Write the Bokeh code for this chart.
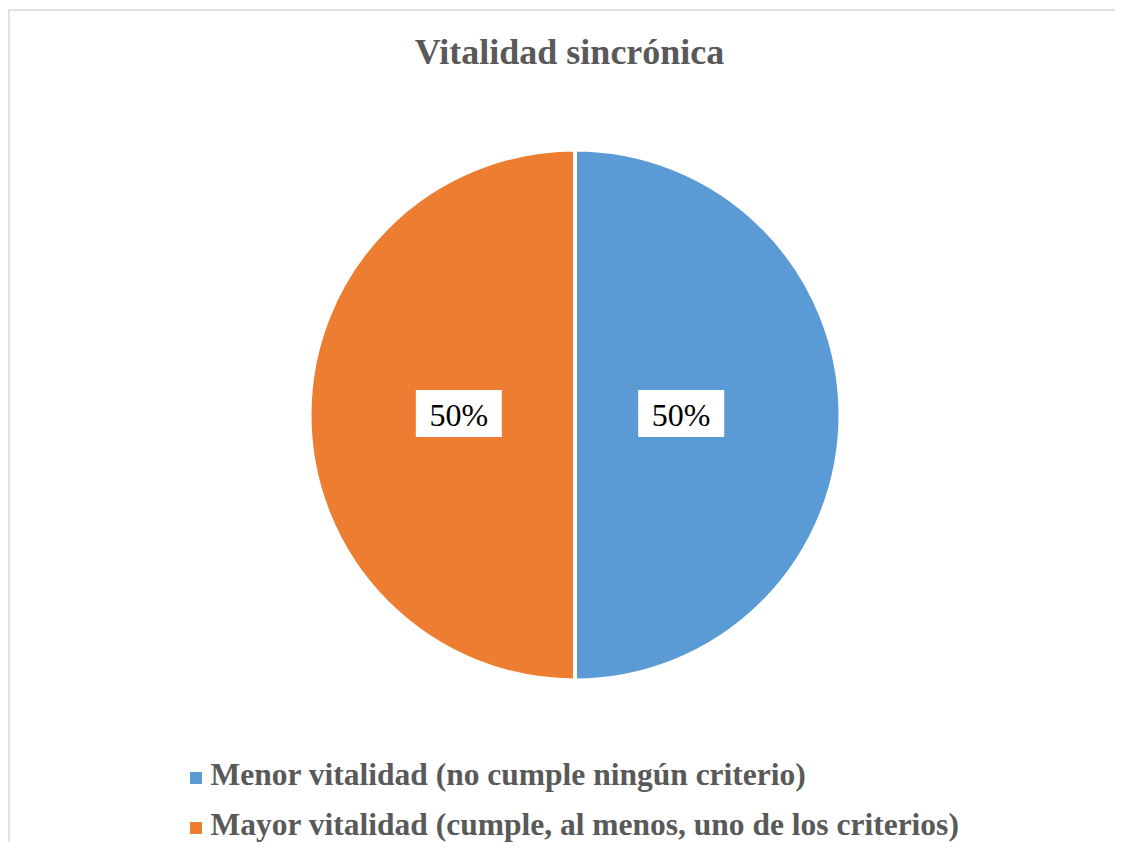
import math
from bokeh.plotting import figure
from bokeh.models import Range1d
from bokeh.core.properties import value
from bokeh.embed import file_html
from bokeh.resources import INLINE

# ---- data ----
title = "Vitalidad sincrónica"
categories = [
    "Menor vitalidad (no cumple ningún criterio)",
    "Mayor vitalidad (cumple, al menos, uno de los criterios)",
]
shares = [50, 50]
colors = ["#5B9BD5", "#ED7D31"]

# ---- layout ----
W, H = 1115, 842
p = figure(width=W, height=H, x_range=Range1d(0, W), y_range=Range1d(0, H),
           output_backend="svg", toolbar_location=None, min_border=0)
p.axis.visible = False
p.grid.visible = False
p.outline_line_color = None
p.background_fill_color = "white"
p.border_fill_color = "white"

BASE = 0.36  # compensation of the svg alphabetic baseline offset (in em)


def sx(x):
    return x


def sy(y):
    return H - y


def base_y(y, fs):
    return sy(y) + BASE * fs


# chart border
p.quad(left=[sx(8.5)], right=[sx(1160)], top=[sy(9.5)], bottom=[sy(900)],
       fill_color=None, line_color="#D9D9D9", line_width=1.5)

# title
TFS = 36
p.text(x=[sx(569)], y=[base_y(64.5, TFS)], text=[title], text_align="center",
       text_baseline="alphabetic", text_font=value("Liberation Serif"),
       text_font_style="bold", text_font_size=f"{TFS}px", text_color="#595959")

# pie
cx, cy = sx(574.5), sy(414.5)
R = 265.5
total = float(sum(shares))
start = math.pi / 2
starts, ends, mids = [], [], []
for s in shares:
    end = start - 2 * math.pi * s / total
    starts.append(start)
    ends.append(end)
    mids.append((start + end) / 2)
    start = end

p.wedge(x=[cx] * len(shares), y=[cy] * len(shares), radius=R, radius_units="screen",
        start_angle=starts, end_angle=ends, direction="clock",
        fill_color=colors, line_color="white", line_width=4)

# data labels
LFS = 32
lx = [cx - 5 + 0.422 * 263.5 * math.cos(m) for m in mids]
ly = [cy + 1.5 + 0.422 * 263.5 * math.sin(m) for m in mids]
labels = [f"{round(100 * s / total)}%" for s in shares]
p.rect(x=lx, y=ly, width=86, height=47, width_units="screen", height_units="screen",
       fill_color="white", line_color=None)
p.text(x=lx, y=[y - 13 + BASE * LFS for y in ly], text=labels, text_align="center",
       text_baseline="alphabetic", text_font=value("Liberation Serif"),
       text_font_size=f"{LFS}px", text_color="black")

# legend
GFS = 31.5
rows = [785, 835]
p.rect(x=[sx(195.5)] * len(categories), y=[sy(r - 7.5) for r in rows], width=12, height=12,
       width_units="screen", height_units="screen", fill_color=colors, line_color=None)
p.text(x=[sx(210)] * len(categories), y=[base_y(r, GFS) for r in rows], text=categories,
       text_align="left", text_baseline="alphabetic", text_font=value("Liberation Serif"),
       text_font_style="bold", text_font_size=f"{GFS}px", text_color="#595959")

open("out.html", "w").write(file_html(p, INLINE))
